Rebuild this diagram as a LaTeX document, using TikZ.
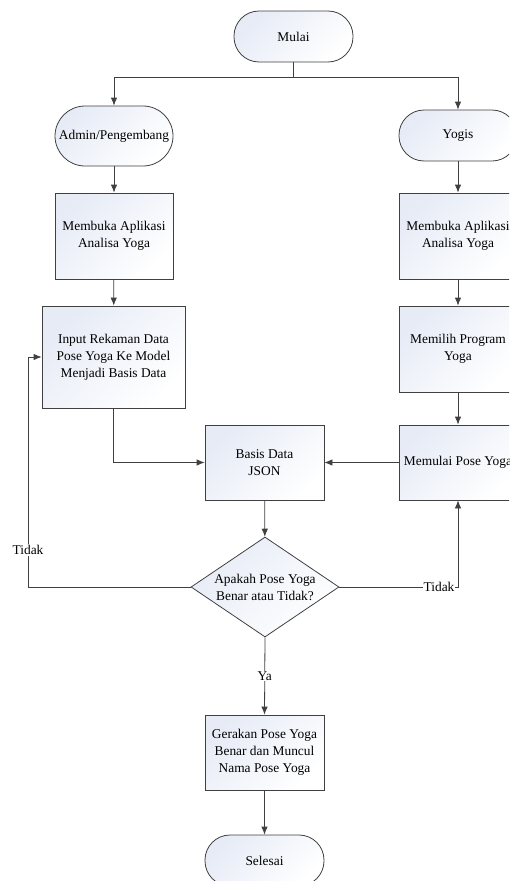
\documentclass[tikz,border=0pt]{standalone}
\usepackage{fontspec}
\setmainfont{Liberation Serif}
\usetikzlibrary{shapes.geometric,arrows.meta}
\definecolor{edgegray}{RGB}{64,64,64}
\definecolor{shadeblue}{RGB}{230,235,246}
\begin{document}
\begin{tikzpicture}[x=1pt,y=-1pt,>={Latex[length=8pt,width=6.5pt]},
every node/.style={font=\fontsize{13.4}{17}\selectfont,align=center},
fillstyle/.style={draw=edgegray,line width=0.8pt,top color=shadeblue,bottom color=white,shading angle=45},
terminal/.style={fillstyle,rectangle,rounded corners=25pt,minimum width=119pt,minimum height=51pt,inner sep=0pt},
process/.style={fillstyle,rectangle,minimum width=118pt,minimum height=86pt,inner sep=0pt},
decision/.style={fillstyle,diamond,aspect=1.48,inner sep=0pt,minimum width=148pt,minimum height=100pt},
arrowstyle/.style={draw=edgegray,line width=0.8pt,->},
lbl/.style={fill=white,inner sep=1pt}]

\clip (0,0) rectangle (509,881);

% start and the two users
\node[terminal] (mulai) at (293.5,36.5) {Mulai};
\node[terminal,minimum width=118pt,minimum height=60pt,rounded corners=30pt] (admin) at (114,136) {Admin/Pengembang};
\node[terminal,minimum width=118pt] (yogis) at (458,135.5) {Yogis};
\coordinate (split) at (293.5,77);

% left column
\node[process] (bukaA) at (114,236) {Membuka Aplikasi\\Analisa Yoga};
\node[process,minimum width=143pt,minimum height=102pt] (input) at (113.5,357) {Input Rekaman Data\\Pose Yoga Ke Model\\Menjadi Basis Data};

% right column
\node[process] (bukaB) at (458,236) {Membuka Aplikasi\\Analisa Yoga};
\node[process] (pilih) at (458,349) {Memilih Program\\Yoga};
\node[process,minimum height=75pt] (pose) at (458,462.5) {Memulai Pose Yoga};

% middle
\node[process,minimum width=119pt,minimum height=75pt] (basis) at (264.5,462.5) {Basis Data\\JSON};
\node[decision] (cek) at (265,587) {Apakah Pose Yoga\\Benar atau Tidak?};
\node[process,minimum width=119pt,minimum height=75pt] (gerak) at (264.5,752.5) {Gerakan Pose Yoga\\Benar dan Muncul\\Nama Pose Yoga};
\node[terminal] (selesai) at (264.5,860.5) {Selesai};
\coordinate (kiri) at (28,587);

\draw[draw=edgegray,line width=0.8pt] (mulai) -- (split);
\draw[arrowstyle] (split) -| (admin);
\draw[arrowstyle] (split) -| (yogis);

\draw[arrowstyle] (admin) -- (bukaA);
\draw[arrowstyle] (bukaA) -- (input);
\draw[arrowstyle] (yogis) -- (bukaB);
\draw[arrowstyle] (bukaB) -- (pilih);
\draw[arrowstyle] (pilih) -- (pose);

\draw[arrowstyle] (input) |- (basis);
\draw[arrowstyle] (pose) -- (basis);
\draw[arrowstyle] (basis) -- (cek);

\draw[arrowstyle] (cek.west) -- (kiri) |- node[lbl,pos=0.08]{Tidak} (input.west);
\draw[arrowstyle] (cek.east) -| node[lbl,pos=0.42]{Tidak} (pose.south);
\draw[arrowstyle] (cek.south) -- node[lbl]{Ya} (gerak.north);
\draw[arrowstyle] (gerak) -- (selesai);

\end{tikzpicture}
\end{document}
